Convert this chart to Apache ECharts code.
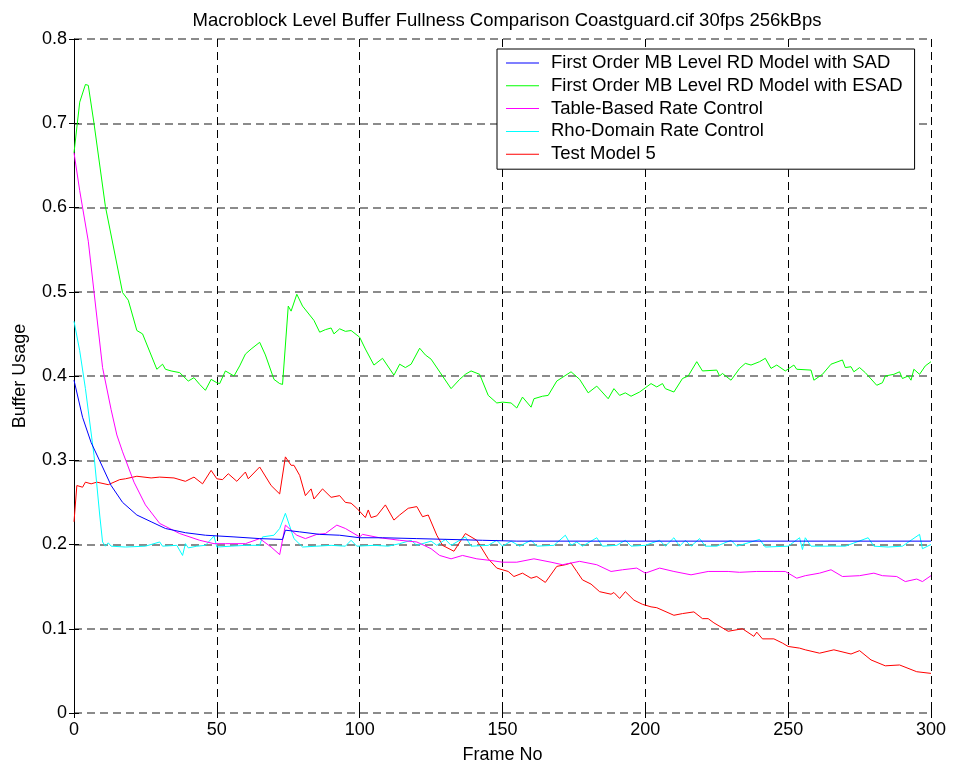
<!DOCTYPE html>
<html>
<head>
<meta charset="utf-8">
<script src="https://cdn.jsdelivr.net/npm/echarts@6/dist/echarts.min.js"></script>
<style>
html,body{margin:0;padding:0;background:#fff;}
#chart{width:953px;height:769px;}
</style>
</head>
<body>
<div id="chart"></div>
<script>
const titleText = 'Macroblock Level Buffer Fullness Comparison Coastguard.cif 30fps 256kBps';
const xTicks = [0, 50, 100, 150, 200, 250, 300];
const yTicks = [0, 0.1, 0.2, 0.3, 0.4, 0.5, 0.6, 0.7, 0.8];
const seriesNames = [
  'First Order MB Level RD Model with SAD',
  'First Order MB Level RD Model with ESAD',
  'Table-Based Rate Control',
  'Rho-Domain Rate Control',
  'Test Model 5'
];

// [frame, buffer usage]
const sadData = [[0,.395],[3,.351],[6,.321],[10,.292],[13,.270],[17,.250],[22,.235],[27,.227],[32,.219],[39,.214],[46,.211],[56,.209],[65,.207],[73,.206],[74,.217],[79,.215],[86,.212],[93,.211],[100,.208],[108,.208],[120,.207],[143,.205],[155,.204],[200,.204],[250,.204],[300,.204]];

const esadData = [[0,.665],[2,.725],[4,.746],[5,.745],[7,.700],[11,.601],[17,.499],[19,.490],[22,.454],[24,.450],[29,.408],[31,.414],[32,.408],[34,.406],[37,.404],[40,.394],[42,.398],[44,.390],[46,.383],[48,.396],[50,.392],[51,.391],[53,.406],[56,.400],[58,.412],[60,.426],[62,.432],[65,.440],[67,.425],[70,.396],[72,.391],[73,.390],[75,.483],[76,.477],[78,.497],[80,.483],[84,.466],[86,.452],[88,.455],[90,.457],[91,.450],[93,.456],[95,.453],[97,.454],[100,.446],[102,.432],[105,.413],[108,.421],[112,.401],[114,.414],[116,.410],[118,.414],[121,.433],[123,.425],[125,.420],[129,.400],[132,.385],[135,.396],[137,.402],[139,.406],[142,.402],[145,.377],[148,.368],[150,.369],[153,.368],[155,.362],[157,.375],[160,.363],[161,.373],[164,.376],[166,.377],[169,.394],[174,.405],[177,.396],[180,.380],[183,.388],[187,.373],[189,.385],[191,.377],[193,.380],[195,.376],[198,.381],[202,.391],[204,.387],[206,.391],[207,.385],[210,.381],[213,.397],[215,.400],[218,.417],[220,.406],[225,.407],[226,.400],[227,.403],[230,.395],[233,.409],[235,.415],[237,.413],[240,.417],[242,.421],[244,.409],[246,.413],[249,.406],[252,.413],[253,.408],[258,.407],[259,.395],[262,.402],[265,.414],[269,.419],[270,.410],[272,.411],[273,.405],[275,.410],[277,.404],[281,.389],[283,.392],[284,.400],[287,.402],[289,.405],[290,.397],[292,.400],[293,.395],[294,.408],[296,.402],[298,.412],[300,.417]];

const tableData = [[0,.665],[2,.62],[5,.56],[8,.47],[10,.41],[13,.36],[15,.33],[17,.31],[21,.274],[25,.247],[30,.225],[37,.213],[44,.205],[49,.201],[53,.201],[60,.201],[65,.207],[69,.197],[72,.188],[74,.223],[78,.211],[81,.207],[85,.212],[88,.213],[92,.223],[95,.219],[100,.209],[101,.212],[107,.208],[114,.205],[120,.203],[125,.195],[128,.187],[132,.183],[136,.187],[141,.183],[146,.181],[150,.179],[155,.179],[161,.183],[167,.179],[171,.176],[177,.180],[183,.176],[188,.168],[192,.170],[197,.172],[200,.166],[205,.172],[210,.168],[216,.164],[222,.168],[229,.168],[233,.167],[239,.168],[245,.168],[249,.168],[253,.160],[256,.163],[261,.166],[265,.170],[269,.162],[275,.163],[280,.166],[283,.163],[288,.162],[291,.156],[295,.159],[297,.156],[300,.163]];

const rhoData = [[0,.465],[2,.43],[4,.385],[7,.306],[9,.235],[10,.203],[11,.198],[12,.202],[13,.198],[18,.197],[25,.198],[30,.203],[31,.198],[36,.199],[38,.187],[39,.201],[40,.196],[43,.198],[46,.199],[49,.210],[50,.197],[55,.198],[60,.199],[65,.199],[66,.209],[70,.211],[72,.219],[74,.237],[77,.207],[80,.197],[85,.198],[90,.199],[95,.198],[97,.205],[99,.198],[105,.199],[110,.198],[114,.201],[118,.205],[120,.199],[125,.204],[127,.199],[130,.206],[132,.199],[137,.209],[139,.198],[145,.199],[148,.205],[150,.198],[153,.204],[156,.198],[160,.205],[162,.198],[168,.199],[172,.211],[174,.199],[176,.203],[178,.198],[183,.208],[185,.198],[190,.199],[193,.205],[195,.198],[200,.199],[205,.205],[207,.198],[210,.208],[212,.198],[214,.205],[216,.198],[219,.207],[221,.198],[225,.198],[230,.205],[232,.198],[240,.206],[242,.197],[250,.198],[254,.208],[255,.194],[256,.208],[258,.198],[265,.198],[270,.198],[278,.208],[280,.198],[285,.197],[290,.198],[296,.212],[297,.195],[300,.200]];

const tm5Data = [[0,.227],[1,.270],[3,.268],[4,.274],[6,.272],[8,.274],[12,.271],[16,.277],[18,.278],[22,.281],[27,.279],[30,.280],[35,.279],[39,.275],[42,.280],[45,.272],[48,.288],[50,.278],[52,.277],[54,.284],[57,.275],[60,.286],[61,.278],[65,.292],[69,.270],[72,.260],[74,.304],[76,.294],[77,.294],[79,.282],[81,.258],[83,.266],[84,.254],[87,.266],[90,.256],[93,.258],[95,.250],[97,.249],[99,.243],[102,.232],[103,.241],[104,.232],[106,.234],[109,.247],[112,.229],[114,.235],[117,.243],[120,.245],[122,.233],[124,.235],[127,.211],[129,.199],[133,.192],[137,.213],[141,.205],[145,.183],[148,.172],[152,.168],[154,.162],[157,.166],[160,.160],[162,.162],[165,.155],[169,.174],[172,.176],[174,.178],[176,.168],[178,.158],[181,.153],[184,.144],[188,.141],[189,.143],[191,.136],[193,.144],[196,.134],[199,.129],[202,.126],[204,.125],[210,.116],[213,.118],[217,.120],[220,.112],[222,.112],[224,.107],[229,.097],[234,.100],[238,.091],[239,.096],[241,.088],[245,.088],[248,.083],[250,.079],[254,.077],[256,.075],[261,.071],[266,.075],[272,.070],[275,.074],[279,.063],[284,.056],[289,.057],[295,.049],[300,.047]];

const seriesColors = ['#0000ff', '#00ff00', '#ff00ff', '#00ffff', '#ff0000'];
const allData = [sadData, esadData, tableData, rhoData, tm5Data];

const FONT = "'Liberation Sans', Arial, sans-serif";
const chart = echarts.init(document.getElementById('chart'), null, {renderer: 'canvas'});

const xMin = xTicks[0], xMax = xTicks[xTicks.length - 1];
const yMin = yTicks[0], yMax = yTicks[yTicks.length - 1];

const option = {
  animation: false,
  backgroundColor: '#fff',
  title: {
    text: titleText,
    left: 502,
    top: 6,
    textAlign: 'center',
    textStyle: {fontFamily: FONT, fontSize: 18.5, fontWeight: 'normal', color: '#000'}
  },
  legend: {
    data: seriesNames,
    orient: 'vertical',
    left: 497,
    top: 49,
    backgroundColor: '#fff',
    borderColor: '#000',
    borderWidth: 1,
    padding: [4, 12, 5, 9],
    icon: 'rect',
    itemWidth: 33,
    itemHeight: 1,
    itemGap: 2.8,
    textStyle: {fontFamily: FONT, fontSize: 18.5, color: '#000', lineHeight: 20, padding: [0, 0, 0, 7]},
    z: 10
  },
  grid: {left: 74, right: 22, top: 39, bottom: 54, containLabel: false},
  xAxis: [{
    type: 'value', min: xMin, max: xMax, interval: 50,
    name: 'Frame No', nameLocation: 'middle', nameGap: 33,
    nameTextStyle: {fontFamily: FONT, fontSize: 18, color: '#000'},
    axisLine: {show: false},
    axisTick: {show: true, inside: true, length: 5, lineStyle: {color: '#000'}},
    axisLabel: {fontFamily: FONT, fontSize: 18, color: '#000', margin: 8},
    splitLine: {show: true, lineStyle: {color: '#000', width: 1, type: [8, 5]}}
  }, {
    type: 'value', min: xMin, max: xMax, interval: 50, position: 'top',
    axisLine: {show: false},
    axisTick: {show: true, inside: true, length: 5, lineStyle: {color: '#000'}},
    axisLabel: {show: false},
    splitLine: {show: false}
  }],
  yAxis: [{
    type: 'value', min: yMin, max: yMax, interval: 0.1,
    name: 'Buffer Usage', nameLocation: 'middle', nameGap: 45,
    nameTextStyle: {fontFamily: FONT, fontSize: 18, color: '#000'},
    axisLine: {show: true, lineStyle: {color: '#000', width: 1}},
    axisTick: {show: true, inside: true, length: 5, lineStyle: {color: '#000'}},
    axisLabel: {fontFamily: FONT, fontSize: 18, color: '#000', margin: 7,
      formatter: v => (Math.round(v * 10) / 10).toString()},
    splitLine: {show: true, lineStyle: {color: '#666', width: 1.6, type: [8, 5]}}
  }, {
    type: 'value', min: yMin, max: yMax, interval: 0.1, position: 'right',
    axisLine: {show: false},
    axisTick: {show: true, inside: true, length: 5, lineStyle: {color: '#000'}},
    axisLabel: {show: false},
    splitLine: {show: false}
  }],
  series: seriesNames.map((name, i) => ({
    name: name,
    type: 'line',
    xAxisIndex: 0,
    yAxisIndex: 0,
    data: allData[i],
    symbol: 'none',
    showSymbol: false,
    lineStyle: {color: seriesColors[i], width: 1},
    itemStyle: {color: seriesColors[i]},
    z: 3 + (4 - i)
  }))
};
chart.setOption(option);
</script>
</body>
</html>
